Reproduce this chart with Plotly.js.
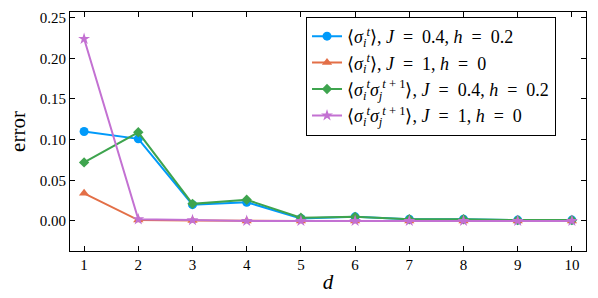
<!DOCTYPE html>
<html><head><meta charset="utf-8">
<script src="https://cdn.plot.ly/plotly-3.0.1.min.js"></script>
<style>body{margin:0;padding:0;background:#fff}#chart{width:598px;height:298px}</style>
</head><body><div id="chart"></div>
<script>
const d = [1,2,3,4,5,6,7,8,9,10];
const blueVals   = [0.110, 0.101, 0.020, 0.023, 0.003, 0.005, 0.002, 0.002, 0.001, 0.001];
const orangeVals = [0.034, 0.001, 0.0005, 0.0, 0.0, 0.0, 0.0, 0.0, 0.0, 0.0];
const greenVals  = [0.072, 0.109, 0.021, 0.026, 0.004, 0.005, 0.002, 0.002, 0.001, 0.001];
const purpleVals = [0.224, 0.002, 0.001, 0.0, 0.0, 0.0, 0.0, 0.0, 0.0, 0.0];
const EQ = "\u2002=\u2002";
const names = [
  "⟨<i>σ</i><sub><i>i</i></sub><sup><i>t</i></sup>⟩, <i>J</i>" + EQ + "0.4, <i>h</i>" + EQ + "0.2",
  "⟨<i>σ</i><sub><i>i</i></sub><sup><i>t</i></sup>⟩, <i>J</i>" + EQ + "1, <i>h</i>" + EQ + "0",
  "⟨<i>σ</i><sub><i>i</i></sub><sup><i>t</i></sup><i>σ</i><sub><i>j</i></sub><sup><i>t</i> + 1</sup>⟩, <i>J</i>" + EQ + "0.4, <i>h</i>" + EQ + "0.2",
  "⟨<i>σ</i><sub><i>i</i></sub><sup><i>t</i></sup><i>σ</i><sub><i>j</i></sub><sup><i>t</i> + 1</sup>⟩, <i>J</i>" + EQ + "1, <i>h</i>" + EQ + "0"
];
const colors = ["#009AFA", "#E36F47", "#3EA44E", "#C371D2"];
const symbols = ["circle", "triangle-up", "diamond", "star"];
const sizes = [9, 9, 8, 9];
const series = [blueVals, orangeVals, greenVals, purpleVals];
const traces = series.map((v, i) => ({
  x: d, y: v, name: names[i], type: "scatter", mode: "lines+markers",
  line: {color: colors[i], width: 2},
  marker: {color: colors[i], symbol: symbols[i], size: sizes[i], line: {width: 0}}
}));
const fam = "Liberation Serif";
const layout = {
  width: 598, height: 298,
  margin: {l: 70, r: 12, t: 12, b: 47},
  paper_bgcolor: "#fff", plot_bgcolor: "#fff",
  font: {family: fam, color: "#000"},
  showlegend: true,
  legend: {x: 0.457, y: 0.98, xanchor: "left", yanchor: "top", bordercolor: "#000", borderwidth: 1.2,
           bgcolor: "#fff", font: {family: fam, size: 18, color: "#000"}, tracegroupgap: 0, itemwidth: 30},
  xaxis: {range: [0.74, 10.26], tickvals: d, ticks: "inside", ticklen: 5, tickcolor: "#000",
          showgrid: false, zeroline: false, showline: true, linecolor: "#000", linewidth: 1, mirror: "allticks",
          tickfont: {family: fam, size: 15, color: "#000"},
          title: {text: "<i>d</i>", font: {family: fam, size: 21, color: "#000"}, standoff: 2}},
  yaxis: {range: [-0.037, 0.257], tickvals: [0, 0.05, 0.1, 0.15, 0.2, 0.25],
          ticktext: ["0.00", "0.05", "0.10", "0.15", "0.20", "0.25"],
          ticks: "inside", ticklen: 5, tickcolor: "#000",
          showgrid: false, zeroline: false, showline: true, linecolor: "#000", linewidth: 1, mirror: "allticks",
          tickfont: {family: fam, size: 15, color: "#000"},
          title: {text: "error", font: {family: fam, size: 21, color: "#000"}, standoff: 8}}
};
Plotly.newPlot("chart", traces, layout, {displayModeBar: false, staticPlot: true});
</script></body></html>
